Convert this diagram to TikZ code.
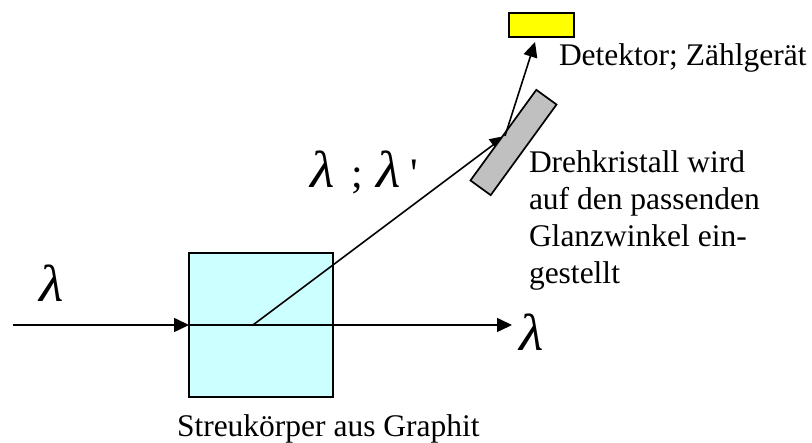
\documentclass[tikz,border=0pt]{standalone}
\usepackage{fontspec}
\usepackage{graphicx}
\setmainfont{Liberation Serif}
\usetikzlibrary{arrows.meta}
\definecolor{boxcyan}{RGB}{204,255,255}
\definecolor{crystalgray}{RGB}{192,192,192}
\definecolor{detyellow}{RGB}{255,255,0}
\newcommand{\lamglyph}{\scalebox{1.08}[1]{\fontsize{52}{52}\selectfont\itshape λ}}
\tikzset{
  part/.style={draw=black,line width=1.7pt,inner sep=0pt,outer sep=0pt},
  ray/.style={line width=1.6pt,-{Triangle[length=15pt,width=14pt]}},
  label/.style={inner sep=0pt,outer sep=0pt,font=\fontsize{31.5}{37}\selectfont,anchor=base west,align=left},
  lam/.style={inner sep=0pt,outer sep=0pt,font=\fontsize{42}{42}\selectfont,anchor=base west},
}
\begin{document}
\begin{tikzpicture}[x=1pt,y=-1pt]
\useasboundingbox (0,0) rectangle (812,443);
\node[part,fill=boxcyan,minimum width=144pt,minimum height=144pt] (box) at (261,325) {};
\node[part,fill=detyellow,minimum width=65pt,minimum height=24pt] (det) at (541.5,25) {};
\coordinate (src) at (13,325);
\coordinate (centre) at (253,325);
\coordinate (out) at (512,325);
\coordinate (hit) at (505,136);
\coordinate (dettip) at (535,42);
\draw[ray] (src) -- (box.west |- src);
\draw[ray] (box.west |- src) -- (out);
\draw[ray] (centre) -- (hit);
\node[part,fill=crystalgray,minimum width=112pt,minimum height=25pt,rotate=54] (crystal) at (513.5,142.5) {};
\draw[ray] (hit) -- (dettip);
\node[lam] (l1) at (39,302) {\lamglyph};
\node[lam] (l2) at (310,188) {\lamglyph\hspace{17pt};\hspace{14pt}\lamglyph\hspace{9pt}\textquotesingle};
\node[lam] (l3) at (519,351) {\lamglyph};
\node[label] (t1) at (559,66) {Detektor; Zählgerät};
\node[label,anchor=north west] (t2) at (529,151) {Drehkristall wird\\auf den passenden\\Glanzwinkel ein-\\gestellt};
\node[label] (t3) at (177,437) {Streukörper aus Graphit};
\end{tikzpicture}
\end{document}
